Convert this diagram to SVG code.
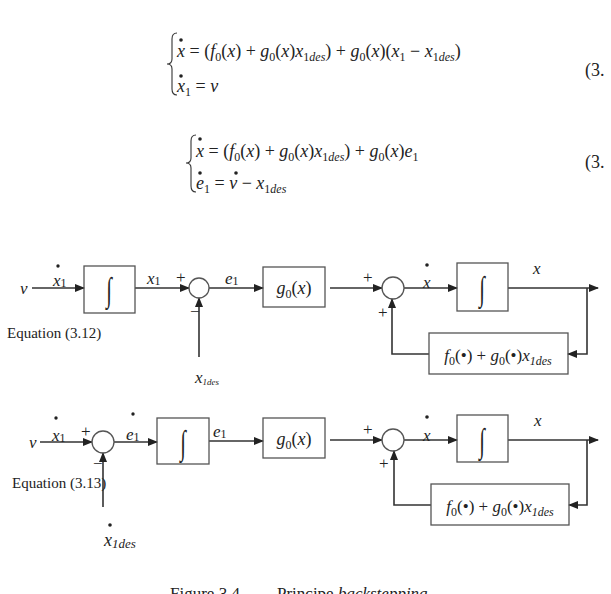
<svg xmlns="http://www.w3.org/2000/svg" width="611" height="594" viewBox="0 0 611 594">
<style>
text{font-family:"Liberation Serif","Times New Roman",serif;fill:#222}
.eq{font-size:18px}
.i{font-style:italic}
.lbl{font-size:17px}
.s{font-size:12px}
.box{fill:none;stroke:#555;stroke-width:1.3}
.ln{fill:none;stroke:#333;stroke-width:1.6}
.br{fill:none;stroke:#333;stroke-width:1.1}
.dot{fill:#222}
.int{font-size:34px;text-anchor:middle;font-weight:normal}
.g{font-size:18px;text-anchor:middle}
</style>
<defs>
<marker id="ah" markerWidth="10" markerHeight="8" refX="9" refY="4" orient="auto" markerUnits="userSpaceOnUse">
<path d="M0,0 L10,4 L0,8 Z" fill="#222"/>
</marker>
</defs>
<rect width="611" height="594" fill="#fff"/>

<g id="eq1">
<path class="br" d="M177,33 Q172,33 172,39 L172,59 Q172,64 167,64 Q172,64 172,69 L172,89 Q172,95 177,95"/>
<circle class="dot" cx="181" cy="40" r="1.8"/>
<text class="eq" x="177" y="57"><tspan class="i">x</tspan> = (<tspan class="i">f</tspan><tspan class="s" dy="4">0</tspan><tspan dy="-4">(</tspan><tspan class="i">x</tspan>) + <tspan class="i">g</tspan><tspan class="s" dy="4">0</tspan><tspan dy="-4">(</tspan><tspan class="i">x</tspan>)<tspan class="i">x</tspan><tspan class="s" dy="4">1</tspan><tspan class="s i">des</tspan><tspan dy="-4">) + </tspan><tspan class="i">g</tspan><tspan class="s" dy="4">0</tspan><tspan dy="-4">(</tspan><tspan class="i">x</tspan>)(<tspan class="i">x</tspan><tspan class="s" dy="4">1</tspan><tspan dy="-4"> − </tspan><tspan class="i">x</tspan><tspan class="s" dy="4">1</tspan><tspan class="s i">des</tspan><tspan dy="-4">)</tspan></text>
<circle class="dot" cx="181" cy="76" r="1.8"/>
<text class="eq" x="177" y="92"><tspan class="i">x</tspan><tspan class="s" dy="4">1</tspan><tspan dy="-4"> = </tspan><tspan class="i">v</tspan></text>
<text class="eq" x="585" y="76">(3.</text>
</g>

<g id="eq2">
<path class="br" d="M196,135 Q191,135 191,141 L191,158 Q191,163 186,163 Q191,163 191,168 L191,186 Q191,192 196,192"/>
<circle class="dot" cx="200" cy="139" r="1.8"/>
<text class="eq" x="196" y="157"><tspan class="i">x</tspan> = (<tspan class="i">f</tspan><tspan class="s" dy="4">0</tspan><tspan dy="-4">(</tspan><tspan class="i">x</tspan>) + <tspan class="i">g</tspan><tspan class="s" dy="4">0</tspan><tspan dy="-4">(</tspan><tspan class="i">x</tspan>)<tspan class="i">x</tspan><tspan class="s" dy="4">1</tspan><tspan class="s i">des</tspan><tspan dy="-4">) + </tspan><tspan class="i">g</tspan><tspan class="s" dy="4">0</tspan><tspan dy="-4">(</tspan><tspan class="i">x</tspan>)<tspan class="i">e</tspan><tspan class="s" dy="4">1</tspan></text>
<circle class="dot" cx="200" cy="173" r="1.8"/>
<circle class="dot" cx="236" cy="173" r="1.8"/>
<text class="eq" x="196" y="189"><tspan class="i">e</tspan><tspan class="s" dy="4">1</tspan><tspan dy="-4"> = </tspan><tspan class="i">v</tspan> − <tspan class="i">x</tspan><tspan class="s" dy="4">1</tspan><tspan class="s i">des</tspan></text>
<text class="eq" x="585" y="168">(3.</text>
</g>

<g id="connectors">
<line class="ln" x1="32" y1="288" x2="84" y2="288" marker-end="url(#ah)"/>
<line class="ln" x1="135" y1="288" x2="189" y2="288" marker-end="url(#ah)"/>
<line class="ln" x1="199" y1="357" x2="199" y2="298" marker-end="url(#ah)"/>
<line class="ln" x1="209" y1="288" x2="263" y2="288" marker-end="url(#ah)"/>
<line class="ln" x1="330" y1="288" x2="382" y2="288" marker-end="url(#ah)"/>
<line class="ln" x1="404" y1="288" x2="457" y2="288" marker-end="url(#ah)"/>
<line class="ln" x1="508" y1="288" x2="598" y2="288" marker-end="url(#ah)"/>
<polyline class="ln" points="587,288 587,354 568,354" marker-end="url(#ah)"/>
<polyline class="ln" points="429,354 392,354 392,299" marker-end="url(#ah)"/>

<line class="ln" x1="40" y1="442" x2="92" y2="442" marker-end="url(#ah)"/>
<line class="ln" x1="103" y1="507" x2="103" y2="453" marker-end="url(#ah)"/>
<line class="ln" x1="114" y1="442" x2="157" y2="442" marker-end="url(#ah)"/>
<line class="ln" x1="209" y1="441" x2="263" y2="441" marker-end="url(#ah)"/>
<line class="ln" x1="330" y1="440" x2="382" y2="440" marker-end="url(#ah)"/>
<line class="ln" x1="404" y1="440" x2="457" y2="440" marker-end="url(#ah)"/>
<line class="ln" x1="508" y1="440" x2="598" y2="440" marker-end="url(#ah)"/>
<polyline class="ln" points="587,440 587,505 569,505" marker-end="url(#ah)"/>
<polyline class="ln" points="431,505 394,505 394,451" marker-end="url(#ah)"/>
</g>

<g id="labels1">
<text class="lbl i" x="20" y="294">v</text>
<circle class="dot" cx="58" cy="266" r="1.7"/>
<text class="lbl" x="53" y="286"><tspan class="i">x</tspan><tspan class="s" dy="1">1</tspan></text>
<text class="lbl" x="147" y="284"><tspan class="i">x</tspan><tspan class="s" dy="1">1</tspan></text>
<text class="lbl" x="176" y="283" font-size="14">+</text>
<text class="lbl" x="190" y="317">−</text>
<text class="lbl" x="225" y="284"><tspan class="i">e</tspan><tspan class="s" dy="1">1</tspan></text>
<text x="195" y="383"><tspan class="i" font-size="17">x</tspan><tspan class="i" font-size="9" dy="2">1des</tspan></text>
<text x="7" y="338" font-size="15">Equation (3.12)</text>
<text class="lbl" x="363" y="283" font-size="14">+</text>
<text class="lbl" x="378" y="318" font-size="14">+</text>
<circle class="dot" cx="427" cy="265" r="1.8"/>
<text class="lbl i" x="423" y="288">x</text>
<text class="lbl i" x="533" y="274">x</text>
</g>

<g id="labels2">
<text class="lbl i" x="29" y="448">v</text>
<circle class="dot" cx="56" cy="418" r="1.7"/>
<text class="lbl" x="52" y="441"><tspan class="i">x</tspan><tspan class="s" dy="1">1</tspan></text>
<text class="lbl" x="81" y="437" font-size="14">+</text>
<text class="lbl" x="93" y="469">−</text>
<circle class="dot" cx="133" cy="414" r="1.7"/>
<text class="lbl" x="126" y="440"><tspan class="i">e</tspan><tspan class="s" dy="1">1</tspan></text>
<text class="lbl" x="213" y="437"><tspan class="i">e</tspan><tspan class="s" dy="1">1</tspan></text>
<text x="12" y="488" font-size="15">Equation (3.13)</text>
<circle class="dot" cx="110" cy="525" r="1.8"/>
<text x="104" y="546"><tspan class="i" font-size="18">x</tspan><tspan class="i" font-size="13" dy="2">1des</tspan></text>
<text class="lbl" x="363" y="435" font-size="14">+</text>
<text class="lbl" x="379" y="469" font-size="14">+</text>
<circle class="dot" cx="427" cy="417" r="1.8"/>
<text class="lbl i" x="423" y="441">x</text>
<text class="lbl i" x="534" y="426">x</text>
</g>

<g id="int1"><rect class="box" x="84" y="266" width="51" height="47"/><text class="int" transform="translate(109,301) scale(0.6,1)">∫</text></g>
<g id="sum1"><circle class="box" cx="199" cy="288" r="10"/></g>
<g id="g1"><rect class="box" x="263" y="267" width="62" height="40"/><text class="g" x="294" y="294"><tspan class="i">g</tspan><tspan font-size="12" dy="4">0</tspan><tspan dy="-4">(</tspan><tspan class="i">x</tspan>)</text></g>
<g id="sum2"><circle class="box" cx="393" cy="288" r="11"/></g>
<g id="int2"><rect class="box" x="457" y="263" width="51" height="48"/><text class="int" transform="translate(482,300) scale(0.6,1)">∫</text></g>
<g id="fb1"><rect class="box" x="429" y="333" width="139" height="41"/><text x="498" y="361" font-size="17" text-anchor="middle"><tspan class="i">f</tspan><tspan font-size="12" dy="4">0</tspan><tspan dy="-4">(•) + </tspan><tspan class="i">g</tspan><tspan font-size="12" dy="4">0</tspan><tspan dy="-4">(•)</tspan><tspan class="i">x</tspan><tspan class="i" font-size="12" dy="4">1des</tspan></text></g>

<g id="sum3"><circle class="box" cx="103" cy="442" r="11"/></g>
<g id="int3"><rect class="box" x="157" y="418" width="52" height="46"/><text class="int" transform="translate(183,454) scale(0.6,1)">∫</text></g>
<g id="g2"><rect class="box" x="263" y="418" width="62" height="40"/><text class="g" x="294" y="445"><tspan class="i">g</tspan><tspan font-size="12" dy="4">0</tspan><tspan dy="-4">(</tspan><tspan class="i">x</tspan>)</text></g>
<g id="sum4"><circle class="box" cx="393" cy="440" r="11"/></g>
<g id="int4"><rect class="box" x="457" y="415" width="51" height="47"/><text class="int" transform="translate(482,452) scale(0.6,1)">∫</text></g>
<g id="fb2"><rect class="box" x="431" y="484" width="138" height="41"/><text x="500" y="512" font-size="17" text-anchor="middle"><tspan class="i">f</tspan><tspan font-size="12" dy="4">0</tspan><tspan dy="-4">(•) + </tspan><tspan class="i">g</tspan><tspan font-size="12" dy="4">0</tspan><tspan dy="-4">(•)</tspan><tspan class="i">x</tspan><tspan class="i" font-size="12" dy="4">1des</tspan></text></g>

<g id="caption">
<text x="170" y="599" font-size="17">Figure 3.4</text>
<text x="277" y="599" font-size="17">Principe <tspan class="i">backstepping</tspan></text>
</g>
</svg>
